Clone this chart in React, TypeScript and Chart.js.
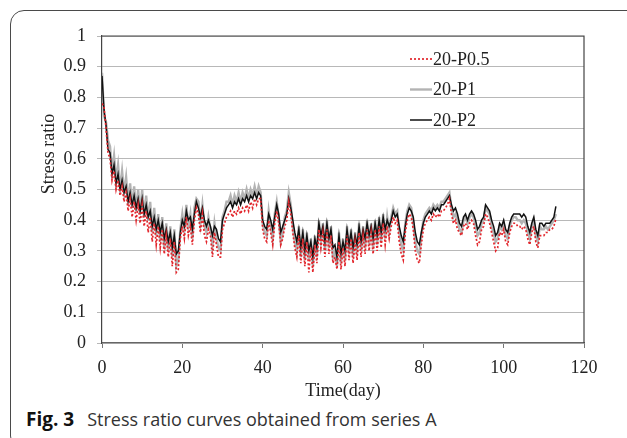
import React, { useEffect, useRef } from "react";
import { Chart, registerables } from "chart.js";

Chart.register(...registerables);

// sampling step of the measured series (days)
const DAY_STEP = 0.5;

const seriesNames = ["20-P0.5", "20-P1", "20-P2"];
const xTicks = [0, 20, 40, 60, 80, 100, 120];
const yTickLabels = ["0", "0.1", "0.2", "0.3", "0.4", "0.5", "0.6", "0.7", "0.8", "0.9", "1"];
const xTitle = "Time(day)";
const yTitle = "Stress ratio";

// 20-P0.5 (red dotted)
const p05 = [
  0.78, 0.77, 0.70, 0.62, 0.60, 0.53, 0.56, 0.50, 0.53, 0.48,
  0.51, 0.46, 0.49, 0.43, 0.47, 0.41, 0.46, 0.40, 0.45, 0.39,
  0.45, 0.38, 0.43, 0.36, 0.41, 0.33, 0.39, 0.32, 0.38, 0.31,
  0.37, 0.29, 0.35, 0.28, 0.34, 0.25, 0.33, 0.23, 0.24, 0.34,
  0.38, 0.34, 0.41, 0.35, 0.38, 0.32, 0.40, 0.44, 0.42, 0.36,
  0.42, 0.35, 0.33, 0.37, 0.35, 0.28, 0.36, 0.32, 0.28, 0.28,
  0.37, 0.39, 0.41, 0.42, 0.43, 0.41, 0.43, 0.42, 0.44, 0.42,
  0.44, 0.43, 0.45, 0.43, 0.46, 0.44, 0.47, 0.45, 0.47, 0.47,
  0.37, 0.34, 0.33, 0.40, 0.36, 0.32, 0.39, 0.43, 0.39, 0.32,
  0.34, 0.38, 0.40, 0.46, 0.42, 0.36, 0.31, 0.28, 0.35, 0.26,
  0.34, 0.25, 0.33, 0.23, 0.31, 0.23, 0.32, 0.26, 0.37, 0.31,
  0.36, 0.28, 0.37, 0.29, 0.35, 0.26, 0.28, 0.24, 0.33, 0.24,
  0.31, 0.25, 0.35, 0.27, 0.34, 0.26, 0.33, 0.27, 0.36, 0.28,
  0.35, 0.29, 0.37, 0.30, 0.36, 0.29, 0.37, 0.30, 0.38, 0.31,
  0.39, 0.32, 0.38, 0.34, 0.38, 0.41, 0.39, 0.40, 0.33, 0.29,
  0.27, 0.36, 0.40, 0.42, 0.41, 0.37, 0.30, 0.27, 0.26, 0.32,
  0.37, 0.39, 0.40, 0.41, 0.40, 0.42, 0.41, 0.42, 0.41, 0.43,
  0.43, 0.44, 0.45, 0.47, 0.42, 0.39, 0.40, 0.37, 0.36, 0.35,
  0.38, 0.39, 0.37, 0.39, 0.40, 0.39, 0.35, 0.32, 0.33, 0.37,
  0.38, 0.42, 0.41, 0.39, 0.36, 0.33, 0.30, 0.31, 0.36, 0.35,
  0.37, 0.33, 0.32, 0.36, 0.38, 0.39, 0.39, 0.38, 0.38, 0.37,
  0.38, 0.37, 0.34, 0.32, 0.36, 0.38, 0.33, 0.31, 0.35, 0.35,
  0.35, 0.36, 0.36, 0.37, 0.37, 0.38, 0.405,
];

// 20-P1 (gray)
const p1 = [
  0.88, 0.74, 0.72, 0.66, 0.64, 0.56, 0.61, 0.53, 0.58, 0.50,
  0.56, 0.49, 0.54, 0.46, 0.52, 0.44, 0.51, 0.43, 0.50, 0.42,
  0.50, 0.41, 0.48, 0.40, 0.46, 0.36, 0.44, 0.35, 0.42, 0.33,
  0.41, 0.31, 0.39, 0.30, 0.38, 0.28, 0.37, 0.25, 0.27, 0.37,
  0.42, 0.37, 0.45, 0.38, 0.42, 0.34, 0.44, 0.47, 0.46, 0.39,
  0.45, 0.38, 0.36, 0.41, 0.37, 0.32, 0.39, 0.34, 0.31, 0.30,
  0.41, 0.43, 0.46, 0.46, 0.48, 0.45, 0.48, 0.46, 0.49, 0.46,
  0.49, 0.47, 0.50, 0.47, 0.50, 0.48, 0.51, 0.48, 0.51, 0.49,
  0.39, 0.36, 0.35, 0.43, 0.38, 0.34, 0.42, 0.46, 0.41, 0.33,
  0.36, 0.41, 0.43, 0.49, 0.45, 0.38, 0.33, 0.30, 0.38, 0.28,
  0.37, 0.27, 0.36, 0.27, 0.34, 0.25, 0.35, 0.28, 0.40, 0.33,
  0.39, 0.30, 0.40, 0.31, 0.38, 0.28, 0.30, 0.25, 0.36, 0.26,
  0.34, 0.27, 0.38, 0.29, 0.37, 0.28, 0.36, 0.29, 0.39, 0.30,
  0.38, 0.31, 0.40, 0.32, 0.39, 0.31, 0.40, 0.32, 0.41, 0.33,
  0.42, 0.34, 0.41, 0.36, 0.41, 0.44, 0.42, 0.43, 0.36, 0.32,
  0.30, 0.39, 0.43, 0.45, 0.44, 0.39, 0.33, 0.30, 0.29, 0.35,
  0.40, 0.42, 0.43, 0.44, 0.43, 0.45, 0.44, 0.45, 0.44, 0.46,
  0.46, 0.47, 0.48, 0.49, 0.44, 0.41, 0.42, 0.40, 0.37, 0.36,
  0.40, 0.41, 0.39, 0.41, 0.42, 0.41, 0.38, 0.35, 0.36, 0.39,
  0.40, 0.44, 0.43, 0.42, 0.38, 0.36, 0.33, 0.34, 0.38, 0.37,
  0.39, 0.35, 0.34, 0.38, 0.40, 0.41, 0.41, 0.40, 0.40, 0.39,
  0.40, 0.39, 0.36, 0.34, 0.38, 0.40, 0.35, 0.33, 0.38, 0.37,
  0.37, 0.38, 0.37, 0.38, 0.39, 0.40, 0.42,
];

// 20-P2 (black)
const p2 = [
  0.87, 0.76, 0.71, 0.63, 0.62, 0.55, 0.58, 0.52, 0.55, 0.50,
  0.53, 0.49, 0.51, 0.46, 0.49, 0.45, 0.48, 0.44, 0.47, 0.43,
  0.47, 0.42, 0.45, 0.41, 0.43, 0.38, 0.41, 0.37, 0.40, 0.36,
  0.39, 0.34, 0.37, 0.33, 0.36, 0.31, 0.35, 0.29, 0.30, 0.36,
  0.40, 0.38, 0.43, 0.40, 0.41, 0.37, 0.42, 0.46, 0.44, 0.41,
  0.44, 0.40, 0.38, 0.40, 0.38, 0.35, 0.38, 0.37, 0.34, 0.33,
  0.40, 0.42, 0.44, 0.45, 0.46, 0.44, 0.46, 0.45, 0.47, 0.45,
  0.47, 0.46, 0.48, 0.46, 0.48, 0.47, 0.49, 0.47, 0.49, 0.48,
  0.40, 0.38, 0.37, 0.42, 0.40, 0.37, 0.41, 0.45, 0.42, 0.36,
  0.38, 0.40, 0.42, 0.47, 0.44, 0.40, 0.36, 0.33, 0.37, 0.31,
  0.36, 0.30, 0.35, 0.30, 0.33, 0.28, 0.34, 0.31, 0.39, 0.35,
  0.38, 0.33, 0.39, 0.34, 0.37, 0.31, 0.32, 0.28, 0.35, 0.29,
  0.33, 0.30, 0.37, 0.32, 0.36, 0.31, 0.35, 0.32, 0.38, 0.33,
  0.37, 0.34, 0.39, 0.35, 0.38, 0.34, 0.39, 0.35, 0.40, 0.36,
  0.41, 0.37, 0.40, 0.38, 0.40, 0.43, 0.41, 0.42, 0.38, 0.35,
  0.33, 0.38, 0.42, 0.44, 0.43, 0.41, 0.36, 0.33, 0.32, 0.36,
  0.39, 0.41, 0.42, 0.43, 0.42, 0.44, 0.43, 0.44, 0.43, 0.45,
  0.45, 0.46, 0.47, 0.48, 0.45, 0.43, 0.44, 0.42, 0.39, 0.38,
  0.41, 0.42, 0.40, 0.42, 0.43, 0.42, 0.40, 0.37, 0.38, 0.40,
  0.41, 0.45, 0.44, 0.43, 0.40, 0.38, 0.35, 0.36, 0.39, 0.38,
  0.40, 0.37, 0.36, 0.39, 0.41, 0.42, 0.42, 0.42, 0.42, 0.41,
  0.42, 0.41, 0.38, 0.36, 0.39, 0.41, 0.37, 0.35, 0.39, 0.39,
  0.38, 0.39, 0.39, 0.39, 0.40, 0.41, 0.445,
];

const SERIF = "'Liberation Serif', 'Times New Roman', serif";

const seriesStyles = [
  { color: "#e2262c", width: 1.7, dash: [2, 2], order: 1 },
  { color: "#b3b3b3", width: 2.4, dash: [] as number[], order: 3 },
  { color: "#111111", width: 1.5, dash: [] as number[], order: 2 },
];

const toPoints = (arr: number[]) => arr.map((v, i) => ({ x: i * DAY_STEP, y: v }));

const framePlugin = {
  id: "frameAndLegend",
  afterDraw(chart: any) {
    const { ctx, chartArea } = chart;
    ctx.save();
    // top and right borders of the plot box
    ctx.strokeStyle = "#444";
    ctx.lineWidth = 1.2;
    ctx.beginPath();
    ctx.moveTo(chartArea.left, chartArea.top);
    ctx.lineTo(chartArea.right, chartArea.top);
    ctx.lineTo(chartArea.right, chartArea.bottom);
    ctx.stroke();

    // y-axis title (placed as in the reference, above the axis centre)
    ctx.save();
    ctx.translate(49, 154);
    ctx.rotate(-Math.PI / 2);
    ctx.font = `18px ${SERIF}`;
    ctx.fillStyle = "#222";
    ctx.textAlign = "center";
    ctx.textBaseline = "middle";
    ctx.fillText(yTitle, 0, 0);
    ctx.restore();

    // legend
    const lx0 = 410;
    const lx1 = 432;
    const ys = [59, 89.5, 120];
    ctx.font = `18px ${SERIF}`;
    ctx.textBaseline = "middle";
    ctx.textAlign = "left";
    seriesNames.forEach((name, i) => {
      const st = seriesStyles[i];
      ctx.strokeStyle = st.color;
      ctx.lineWidth = st.width;
      ctx.setLineDash(st.dash);
      ctx.beginPath();
      ctx.moveTo(lx0, ys[i]);
      ctx.lineTo(lx1, ys[i]);
      ctx.stroke();
      ctx.setLineDash([]);
      ctx.fillStyle = "#222";
      ctx.fillText(name, lx1 + 1, ys[i] + 1);
    });
    ctx.restore();
  },
};

export default function App() {
  const canvasRef = useRef<HTMLCanvasElement | null>(null);

  useEffect(() => {
    const canvas = canvasRef.current;
    if (!canvas) return;
    const allSeries = [p05, p1, p2];
    const chart = new Chart(canvas, {
      type: "line",
      data: {
        datasets: allSeries.map((arr, i) => ({
          label: seriesNames[i],
          data: toPoints(arr),
          borderColor: seriesStyles[i].color,
          borderWidth: seriesStyles[i].width,
          borderDash: seriesStyles[i].dash,
          pointRadius: 0,
          tension: 0,
          fill: false,
          order: seriesStyles[i].order,
        })),
      },
      options: {
        responsive: false,
        animation: false,
        events: [],
        layout: { padding: { left: 0, right: 43, top: 36, bottom: 0 } },
        plugins: {
          legend: { display: false },
          tooltip: { enabled: false },
        },
        scales: {
          x: {
            type: "linear",
            min: 0,
            max: 120,
            afterBuildTicks: (scale: any) => {
              scale.ticks = xTicks.map((v) => ({ value: v }));
            },
            afterFit: (scale: any) => {
              scale.height = 61;
            },
            ticks: {
              color: "#222",
              font: { family: SERIF, size: 18 },
              padding: 9,
              maxRotation: 0,
              autoSkip: false,
              callback: (v: any) => String(v),
            },
            grid: {
              drawOnChartArea: false,
              drawTicks: true,
              tickLength: 5,
              color: "#777",
            },
            border: { display: true, color: "#666", width: 1.2 },
            title: {
              display: true,
              text: xTitle,
              color: "#222",
              font: { family: SERIF, size: 18 },
              padding: { top: 0, bottom: 2 },
            },
          },
          y: {
            type: "linear",
            min: 0,
            max: 1,
            afterBuildTicks: (scale: any) => {
              scale.ticks = yTickLabels.map((_, i) => ({ value: i / 10 }));
            },
            afterFit: (scale: any) => {
              scale.width = 102;
            },
            ticks: {
              color: "#222",
              font: { family: SERIF, size: 18 },
              padding: 11,
              autoSkip: false,
              callback: (_v: any, i: number) => yTickLabels[i],
            },
            grid: {
              drawOnChartArea: true,
              drawTicks: true,
              tickLength: 5,
              color: "#b8b8b8",
              lineWidth: 1,
            },
            border: { display: true, color: "#444", width: 1.2 },
            title: { display: false },
          },
        },
      },
      plugins: [framePlugin],
    });
    return () => chart.destroy();
  }, []);

  return (
    <div
      style={{
        position: "fixed",
        left: 0,
        top: 0,
        width: 627,
        height: 438,
        background: "#fff",
        overflow: "hidden",
      }}
    >
      <div
        style={{
          position: "absolute",
          left: 10,
          top: 10,
          width: 640,
          height: 440,
          border: "1.5px solid #4a4a4a",
          borderRadius: 14,
          boxSizing: "border-box",
        }}
      />
      <canvas
        ref={canvasRef}
        width={627}
        height={404}
        style={{ position: "absolute", left: 0, top: 0, width: 627, height: 404 }}
      />
      <div
        style={{
          position: "absolute",
          left: 26,
          top: 407,
          fontFamily: "'Open Sans', sans-serif",
          fontSize: 18,
          lineHeight: "24px",
          color: "#333",
          whiteSpace: "nowrap",
        }}
      >
        <span style={{ fontWeight: 700, color: "#111", fontSize: 19 }}>Fig. 3</span>
        <span style={{ marginLeft: 13 }}>Stress ratio curves obtained from series A</span>
      </div>
    </div>
  );
}
